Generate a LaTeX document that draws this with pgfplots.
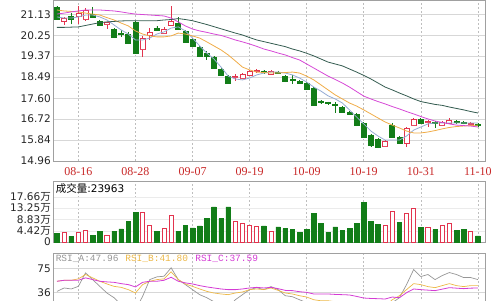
\documentclass[border=0pt]{standalone}
\usepackage{fontspec}
\setmainfont{DejaVu Sans}
\newfontfamily\cjk{Noto Sans CJK SC}
\newfontfamily\datefont{Liberation Serif}
\newfontfamily\rsifont{Liberation Mono}
\usepackage{pgfplots}
\usepackage{pgfplotstable}
\usepgfplotslibrary{statistics}
\pgfplotsset{compat=1.18}
\definecolor{candred}{RGB}{226,52,78}
\definecolor{candgreen}{RGB}{18,125,24}
\definecolor{mafive}{RGB}{150,172,212}
\definecolor{maten}{RGB}{240,172,72}
\definecolor{matwenty}{RGB}{214,72,214}
\definecolor{masixty}{RGB}{52,92,80}
\definecolor{rsia}{RGB}{150,150,150}
\definecolor{rsib}{RGB}{236,184,72}
\definecolor{rsic}{RGB}{212,60,212}
\definecolor{datered}{RGB}{200,40,40}
\definecolor{framegray}{RGB}{160,160,160}
\definecolor{gridgray}{RGB}{190,190,190}
\definecolor{hgrid}{RGB}{215,215,215}

\pgfplotstableread{
i o h l c
0 21.44 21.48 20.93 20.93
1 20.85 21.02 20.68 20.97
2 21.06 21.18 20.72 20.93
3 21.06 21.48 20.72 21.18
4 20.93 21.40 20.85 21.31
5 21.14 21.44 21.00 21.02
6 20.85 20.89 20.64 20.68
7 20.72 20.81 20.51 20.77
8 20.51 20.55 20.13 20.17
9 20.32 20.47 20.17 20.28
10 20.30 20.39 19.88 19.92
11 20.81 20.85 19.50 19.50
12 19.67 20.22 19.33 20.13
13 20.26 20.55 20.05 20.39
14 20.55 20.64 20.43 20.47
15 20.34 20.60 20.30 20.51
16 20.68 21.48 20.64 20.85
17 20.76 21.00 20.47 20.51
18 20.43 20.47 19.95 19.97
19 20.09 20.13 19.75 19.80
20 19.75 19.80 19.33 19.38
21 19.50 19.58 19.21 19.35
22 19.33 19.38 18.83 18.87
23 18.83 18.87 18.53 18.58
24 18.53 18.58 18.20 18.24
25 18.47 18.62 18.32 18.51
26 18.45 18.66 18.40 18.62
27 18.58 18.79 18.53 18.75
28 18.73 18.85 18.66 18.77
29 18.75 18.79 18.62 18.68
30 18.62 18.79 18.58 18.75
31 18.70 18.75 18.62 18.66
32 18.53 18.58 18.28 18.32
33 18.39 18.58 18.20 18.35
34 18.32 18.37 18.20 18.24
35 18.24 18.28 17.95 17.99
36 18.03 18.07 17.28 17.32
37 17.46 17.53 17.36 17.42
38 17.42 17.46 17.32 17.38
39 17.36 17.44 16.98 17.30
40 17.23 17.27 16.98 17.02
41 17.02 17.06 16.90 16.94
42 16.94 16.98 16.43 16.47
43 16.56 16.60 15.93 15.97
44 16.05 16.10 15.55 15.63
45 15.89 15.93 15.50 15.55
46 15.59 15.84 15.55 15.80
47 16.47 16.56 15.93 15.97
48 15.97 16.01 15.68 15.72
49 15.72 16.39 15.55 16.35
50 16.47 16.77 16.43 16.73
51 16.73 16.77 16.52 16.56
52 16.60 16.68 16.39 16.64
53 16.58 16.64 16.35 16.54
54 16.47 16.64 16.43 16.60
55 16.56 16.77 16.52 16.68
56 16.62 16.68 16.52 16.58
57 16.60 16.64 16.50 16.56
58 16.50 16.58 16.45 16.54
59 16.50 16.54 16.41 16.45
}\candles

\pgfplotstableread{
i ma5 ma10 ma20 ma60
0 21.02 21.31 21.14 20.58
1 20.97 21.27 21.18 20.58
2 20.97 21.25 21.23 20.59
3 21.02 21.23 21.27 20.60
4 21.10 21.18 21.31 20.66
5 21.10 21.14 21.31 20.72
6 21.02 21.10 21.31 20.78
7 20.89 20.99 21.29 20.81
8 20.68 20.89 21.27 20.83
9 20.47 20.76 21.23 20.85
10 20.30 20.64 21.18 20.86
11 20.05 20.43 21.14 20.86
12 20.05 20.30 21.12 20.86
13 20.13 20.22 21.10 20.86
14 20.30 20.18 21.08 20.86
15 20.39 20.18 21.06 20.89
16 20.55 20.22 20.97 20.91
17 20.60 20.34 20.81 20.95
18 20.43 20.30 20.64 20.91
19 20.13 20.22 20.51 20.86
20 19.80 20.13 20.43 20.78
21 19.50 19.97 20.37 20.70
22 19.25 19.80 20.30 20.61
23 18.91 19.63 20.24 20.52
24 18.53 19.42 20.15 20.43
25 18.41 19.17 20.05 20.34
26 18.37 18.91 19.97 20.26
27 18.45 18.79 19.88 20.15
28 18.58 18.70 19.78 20.05
29 18.66 18.68 19.67 19.98
30 18.70 18.66 19.59 19.91
31 18.70 18.66 19.50 19.84
32 18.66 18.68 19.42 19.77
33 18.58 18.70 19.31 19.67
34 18.45 18.66 19.21 19.59
35 18.28 18.53 19.04 19.49
36 18.07 18.37 18.87 19.38
37 17.90 18.16 18.70 19.25
38 17.70 17.95 18.53 19.12
39 17.57 17.74 18.39 19.04
40 17.40 17.57 18.24 18.96
41 17.11 17.40 18.07 18.83
42 16.81 17.27 17.88 18.70
43 16.52 17.11 17.69 18.56
44 16.22 16.94 17.57 18.41
45 16.01 16.77 17.46 18.24
46 15.84 16.60 17.36 18.07
47 15.84 16.47 17.25 17.95
48 15.84 16.35 17.15 17.82
49 16.01 16.22 17.04 17.70
50 16.26 16.14 16.94 17.57
51 16.39 16.14 16.83 17.46
52 16.52 16.18 16.73 17.40
53 16.56 16.24 16.64 17.34
54 16.56 16.31 16.58 17.30
55 16.56 16.37 16.52 17.23
56 16.56 16.41 16.47 17.17
57 16.56 16.43 16.45 17.11
58 16.56 16.45 16.43 17.04
59 16.56 16.47 16.39 16.98
}\mas

\pgfplotstableread{
i v
1 3.9
3 3.8
4 4.6
7 2.6
12 11.7
13 6.3
15 5.2
16 10.4
25 8.2
26 7.2
27 6.5
28 6.1
30 4.2
46 6.5
47 12.0
49 11.3
50 13.0
52 5.6
54 6.5
55 7.2
58 4.3
}\volup

\pgfplotstableread{
i v
0 3.3
2 2.2
5 2.5
6 4.2
8 4.2
9 5.1
10 8.1
11 11.7
14 4.3
17 4.2
18 6.5
19 5.5
20 6.3
21 9.1
22 13.7
23 9.1
24 13.7
29 6.3
31 5.9
32 5.2
33 4.8
34 3.7
35 4.8
36 11.1
37 7.4
38 3.9
39 5.9
40 4.6
41 5.2
42 7.4
43 15.6
44 8.2
45 6.8
48 7.8
51 5.6
53 4.8
56 4.6
57 4.8
59 2.4
}\voldown

\pgfplotstableread{
i a b c
0 38.1 54.4 54.4
1 43.6 56.0 56.0
2 42.0 56.0 56.0
3 46.2 58.3 56.0
4 68.0 65.3 59.9
5 57.1 59.9 57.1
6 46.2 54.4 54.4
7 35.5 50.1 53.4
8 27.9 46.2 52.7
9 16.5 44.6 50.6
10 11.6 40.9 49.0
11 8.4 35.5 45.3
12 30.0 49.0 52.7
13 57.1 54.4 54.4
14 61.5 57.1 54.4
15 62.5 58.3 56.0
16 76.1 69.6 60.9
17 57.1 57.1 54.4
18 49.0 50.1 51.8
19 40.9 46.2 50.1
20 32.8 42.0 47.4
21 27.9 38.1 45.3
22 21.4 35.5 43.6
23 14.9 33.9 42.0
24 11.6 32.8 40.9
25 24.6 35.5 40.9
26 32.8 37.1 42.0
27 40.9 40.9 43.6
28 44.1 42.0 44.6
29 40.9 40.9 43.6
30 45.8 43.6 44.6
31 40.9 39.7 42.5
32 31.1 35.5 39.7
33 29.5 33.9 39.3
34 24.6 31.1 37.6
35 19.8 29.0 36.5
36 8.4 24.6 33.9
37 10.0 23.0 33.9
38 13.3 23.0 33.9
39 11.6 21.4 33.2
40 8.4 20.6 32.8
41 8.4 19.8 32.3
42 5.1 18.1 30.0
43 1.9 14.9 27.4
44 1.9 14.1 26.7
45 3.5 14.1 26.3
46 5.1 14.9 25.8
47 19.8 24.6 29.0
48 27.9 31.1 27.9
49 49.0 40.9 36.0
50 73.4 50.6 42.0
51 62.0 49.0 40.9
52 65.3 45.8 40.1
53 57.1 44.1 39.3
54 63.6 47.4 41.7
55 68.5 50.6 44.1
56 65.3 47.4 43.3
57 60.4 45.8 42.5
58 60.4 47.4 43.3
59 57.1 47.4 43.6
}\rsi

\pgfplotsset{
  panel/.style={
    scale only axis, width=432pt, xmin=-0.56, xmax=60,
    axis line style={draw=framegray, line width=0.6pt},
    major tick length=0pt, tick style={draw=none},
    xtick={3,11,19,27,35,43,51,59},
    xmajorgrids, ymajorgrids,
    major x grid style={draw=gridgray, dash pattern=on 2pt off 2pt, line width=0.5pt},
    major y grid style={draw=hgrid, line width=0.5pt},
    yticklabel style={anchor=east, inner sep=0pt, xshift=-2pt,
      font=\fontsize{10.5}{12}\selectfont, text=black!85},
  },
  candup/.style={draw=candred, fill=white, line width=0.7pt, solid},
  canddown/.style={draw=candgreen, fill=candgreen, line width=0.7pt, solid},
}

\begin{document}
\begin{tikzpicture}
% ---------- price panel ----------
\begin{axis}[panel, at={(53pt,139pt)}, anchor=south west, height=161pt,
  ymin=14.96, ymax=21.731,
  ytick={14.96,15.84,16.72,17.60,18.49,19.37,20.25,21.13},
  yticklabels={14.96,15.84,16.72,17.60,18.49,19.37,20.25,21.13},
  xticklabels={08-16,08-28,09-07,09-19,10-09,10-19,10-31,11-10},
  xticklabel style={anchor=north, inner sep=0pt, yshift=-6pt,
    font=\datefont\fontsize{12}{14}\selectfont, text=datered},
  boxplot/draw direction=y,
  boxplot/box extend=0.7, boxplot/whisker extend=0,
  boxplot/every median/.style={draw=none},
]
\pgfplotsinvokeforeach{0,...,59}{%
  \pgfplotstablegetelem{#1}{o}\of\candles \let\vo=\pgfplotsretval
  \pgfplotstablegetelem{#1}{h}\of\candles \let\vh=\pgfplotsretval
  \pgfplotstablegetelem{#1}{l}\of\candles \let\vl=\pgfplotsretval
  \pgfplotstablegetelem{#1}{c}\of\candles \let\vc=\pgfplotsretval
  \pgfmathsetmacro\vlo{min(\vo,\vc)}%
  \pgfmathsetmacro\vhi{max(\vo,\vc)}%
  \pgfmathparse{\vc>\vo}%
  \ifdim\pgfmathresult pt>0.5pt \def\cstyle{candup}\else\def\cstyle{canddown}\fi
  \edef\docandle{\noexpand\addplot[\cstyle, boxplot prepared={draw position=#1,
     lower whisker=\vl, lower quartile=\vlo, median=\vlo,
     upper quartile=\vhi, upper whisker=\vh}] coordinates {};}%
  \docandle
}
\addplot[mafive, line width=0.8pt] table[x=i, y=ma5] {\mas};
\addplot[maten, line width=0.8pt] table[x=i, y=ma10] {\mas};
\addplot[matwenty, line width=0.8pt] table[x=i, y=ma20] {\mas};
\addplot[masixty, line width=0.8pt] table[x=i, y=ma60] {\mas};
\end{axis}

% ---------- volume panel ----------
\begin{axis}[panel, at={(53pt,58pt)}, anchor=south west, height=61pt,
  ymin=0, ymax=23.86,
  ytick={0,4.42,8.83,13.25,17.66},
  yticklabels={0,{4.42{\cjk 万}},{8.83{\cjk 万}},{13.25{\cjk 万}},{17.66{\cjk 万}}},
  xticklabels={},
  major y grid style={draw=black!8, line width=0.4pt},
]
\addplot[ybar, bar width=4.6pt, draw=candgreen, fill=candgreen, line width=0.5pt] table[x=i, y=v] {\voldown};
\addplot[ybar, bar width=4.2pt, draw=candred, fill=white, line width=0.8pt] table[x=i, y=v] {\volup};
\node[anchor=west, inner sep=0pt, font=\fontsize{10.5}{12}\selectfont] at (rel axis cs:0.006,0.87) {{\cjk 成交量}:23963};
\end{axis}

% ---------- RSI panel ----------
\begin{axis}[panel, at={(53pt,-15pt)}, anchor=south west, height=62pt,
  ymin=0, ymax=100, ytick={36,75}, yticklabels={36,75},
  xticklabels={},
]
\addplot[rsia, line width=0.7pt] table[x=i, y=a] {\rsi};
\addplot[rsib, line width=0.7pt] table[x=i, y=b] {\rsi};
\addplot[rsic, line width=0.8pt] table[x=i, y=c] {\rsi};
\node[anchor=west, inner sep=0pt, font=\rsifont\fontsize{9.5}{11}\selectfont, text=rsia] at (rel axis cs:0.006,0.91) {RSI\_A:47.96};
\node[anchor=west, inner sep=0pt, font=\rsifont\fontsize{9.5}{11}\selectfont, text=rsib] at (rel axis cs:0.167,0.91) {RSI\_B:41.80};
\node[anchor=west, inner sep=0pt, font=\rsifont\fontsize{9.5}{11}\selectfont, text=rsic] at (rel axis cs:0.329,0.91) {RSI\_C:37.59};
\end{axis}

\pgfresetboundingbox
\path[use as bounding box] (0pt,0pt) rectangle (500pt,300pt);
\end{tikzpicture}
\end{document}
